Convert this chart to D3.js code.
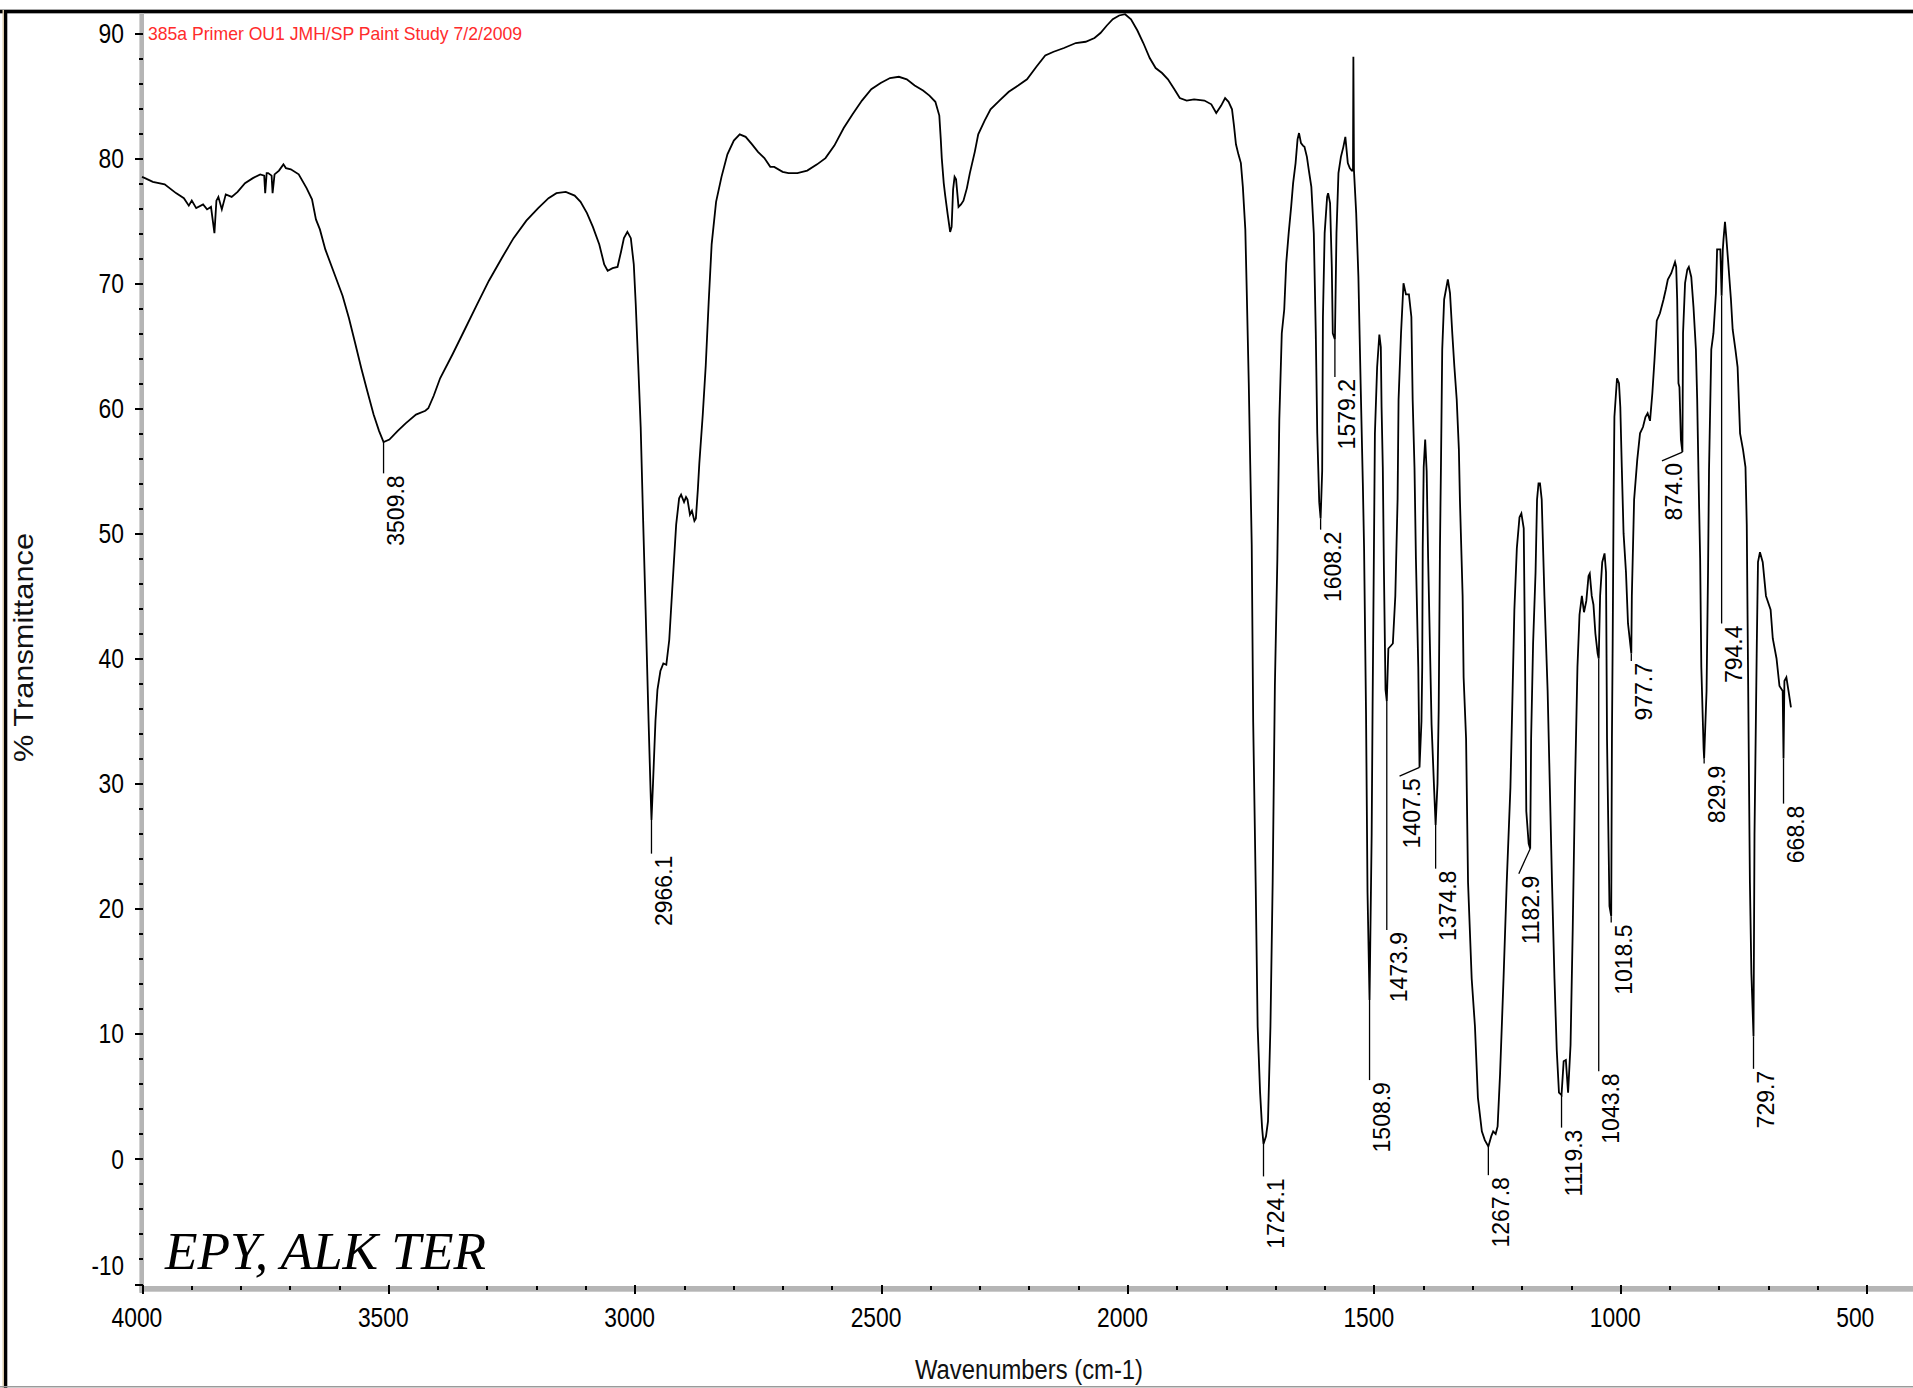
<!DOCTYPE html>
<html><head><meta charset="utf-8">
<script src="https://cdn.jsdelivr.net/npm/d3@7"></script>
<style>html,body{margin:0;padding:0;background:#fff;} svg{display:block;}</style>
</head><body>
<svg id="chart" width="1913" height="1388"></svg>
<script>
// ---------------- DATA ----------------
const wavenumbers = [4000,3994,3978,3954,3931,3915,3905,3899,3890,3876,3868,3860,3853,3849,3845,3838,3830,3818,3806,3791,3775,3760,3752,3750,3747,3744,3737,3735,3731,3722,3713,3708,3698,3682,3666,3655,3647,3639,3628,3610,3593,3580,3568,3555,3543,3530,3519,3509.8,3498,3481,3465,3444,3425,3419,3408,3395,3370,3345,3320,3296,3270,3246,3220,3196,3175,3159,3140,3122,3110,3097,3085,3072,3062,3055,3045,3035,3028,3022,3015,3008,3002,2998,2993,2988,2983,2978,2972,2968,2966.1,2963,2958,2954,2948,2942,2936,2930,2924,2916,2910,2906,2900,2896,2893,2888,2884,2879,2876,2872,2869,2862,2856,2850,2844,2835,2824,2812,2799,2787,2775,2762,2750,2737,2725,2717,2700,2688,2670,2650,2630,2613,2595,2576,2558,2539,2520,2501,2482,2464,2448,2432,2415,2402,2390,2382,2379,2377,2373,2370,2365,2360,2357,2354,2351,2348,2345,2343,2338,2333,2326,2320,2310,2303,2290,2278,2260,2241,2222,2204,2185,2167,2150,2129,2105,2085,2067,2055,2042,2030,2017,2005,1993,1980,1968,1955,1943,1930,1918,1905,1894,1880,1865,1844,1830,1820,1810,1802,1795,1788,1784,1780,1775,1770,1766,1761,1758,1754,1751,1748,1745,1740,1736,1731,1727,1724.1,1719,1715,1710,1705.5,1701,1696,1692,1687,1682,1678,1673,1668,1664,1659,1655,1652,1648,1644,1641,1636,1632,1627,1622,1618,1615,1611,1608.2,1605,1603.5,1600,1595,1593,1589,1585.5,1583.5,1579.2,1576,1572,1567,1562,1558,1553,1549,1545,1542.5,1541.7,1540.5,1536,1531.5,1527,1522.5,1520,1516,1513,1508.9,1504.6,1502.7,1498,1493.5,1489,1486,1484.5,1482,1479.7,1476.5,1473.9,1470.7,1466,1461.6,1456.6,1452,1450,1445,1440,1435,1429,1424,1421.4,1417.7,1414.8,1410,1407.5,1403.5,1402,1401,1399,1396,1393,1390,1383,1378,1374.8,1371,1368.6,1366,1364,1361.4,1357.5,1350,1345.6,1341,1336.7,1332,1327.6,1325.5,1320,1318,1313,1309,1301.6,1295,1289,1281,1275,1267.8,1262,1258,1253,1249,1244,1237,1230.5,1223,1218.6,1215,1210,1204.6,1200.8,1196,1193.6,1190.8,1186,1182.9,1181,1177,1172,1169,1166,1163,1159.5,1154,1147.5,1143,1138.6,1133.6,1129,1124.5,1119.3,1115,1110.5,1106,1101,1096.6,1092,1087,1082.8,1078,1073.7,1069,1064.5,1062,1058,1054.5,1050.6,1046,1043.8,1041,1036.7,1032,1029,1027,1022,1018.5,1017,1015.5,1013.6,1012,1006.7,1002.7,1000,997,993.4,988.5,984.4,977.7,976.6,972,965.6,960,954,949,944.6,939.7,935,930.6,926,919.6,912.3,907.7,903.6,896.6,889,886.6,884.6,882,880,877,874,872.7,868.6,864,861,856,851.5,846.6,844,841,838,835.6,831,829.9,825,822,820,815.4,811,806,803.6,797,794.4,792,790.6,787.6,785,781.5,775.5,772,766.4,762,757,751,746,743.4,739.6,737,734,729.7,727.7,723,720.6,716.6,711,704.4,695,690.6,683,677,670.5,668.8,667,663,658.6,653.7];
const transmittance = [78.5,78.4,78.1,77.9,77.2,76.8,76.2,76.6,76.0,76.3,75.9,76.1,74.0,76.6,76.9,75.9,77.1,76.9,77.3,78.0,78.4,78.7,78.6,77.2,78.8,78.8,78.6,77.2,78.7,79.0,79.5,79.2,79.1,78.7,77.6,76.7,75.1,74.3,72.7,70.8,69.0,67.2,65.3,63.2,61.4,59.5,58.2,57.3,57.5,58.2,58.8,59.5,59.8,60.0,61.0,62.4,64.3,66.3,68.3,70.2,72.0,73.6,75.0,76.0,76.8,77.2,77.3,77.0,76.5,75.6,74.5,73.1,71.5,71.0,71.2,71.3,72.5,73.6,74.1,73.6,71.5,68.3,63.5,58.5,51.0,43.9,35.0,29.5,27.1,30.0,35.0,37.5,39.0,39.6,39.5,41.5,45.5,50.7,52.8,53.1,52.5,52.9,52.7,51.5,51.8,51.0,51.2,53.5,55.6,59.5,63.4,68.5,73.1,76.5,78.5,80.3,81.4,81.9,81.7,81.1,80.5,80.0,79.3,79.3,78.9,78.8,78.8,79.0,79.5,80.0,81.0,82.4,83.5,84.6,85.5,86.0,86.4,86.5,86.3,85.8,85.4,85.0,84.5,83.4,81.5,80.0,78.0,77.0,75.5,74.1,74.5,77.5,78.5,78.3,77.0,76.1,76.3,76.6,77.6,78.8,80.5,81.9,83.0,83.9,84.6,85.3,85.8,86.3,87.3,88.2,88.5,88.8,89.2,89.3,89.6,90.0,90.6,91.1,91.4,91.5,91.1,90.2,89.2,88.0,87.2,86.8,86.3,85.5,84.8,84.6,84.7,84.6,84.3,83.6,84.2,84.8,84.5,83.9,82.6,81.1,80.3,79.6,77.7,74.3,69.2,62.0,55.5,49.1,34.9,22.1,10.6,5.3,2.5,1.2,1.8,3.0,10.6,22.1,37.8,47.9,59.1,66.0,67.9,71.6,74.0,76.1,78.0,79.6,81.5,82.0,81.2,81.0,80.9,80.1,79.0,77.7,74.0,66.0,58.0,52.5,51.2,55.0,67.3,74.0,76.9,77.2,76.4,71.3,66.0,65.5,74.0,78.8,80.1,80.9,81.7,79.6,79.2,79.0,79.0,88.1,79.0,75.6,70.5,62.0,54.0,48.8,35.5,21.3,12.7,25.9,36.2,58.0,63.3,65.9,64.9,60.1,55.3,47.0,37.5,36.6,40.8,41.0,41.2,45.0,52.7,60.7,66.0,70.0,69.1,69.1,67.3,60.7,55.3,48.0,39.3,31.3,35.0,39.3,48.8,55.3,57.5,55.0,48.0,34.7,29.7,26.7,30.0,35.8,48.8,55.3,64.7,68.7,70.3,69.2,66.0,63.3,60.7,56.7,52.7,45.0,38.5,33.6,22.1,14.4,10.6,4.9,2.2,1.5,1.0,1.8,2.2,2.0,2.6,6.8,14.4,22.1,29.7,37.4,43.9,48.8,51.3,51.6,50.4,41.2,27.8,25.2,24.8,33.6,41.2,46.9,52.7,54.0,54.0,52.7,45.0,37.4,29.7,22.1,14.4,8.7,5.3,5.1,7.8,7.9,5.3,9.1,18.3,29.7,39.3,43.5,45.0,43.7,44.6,46.6,46.8,45.0,44.3,42.0,40.4,40.0,45.0,47.7,48.4,46.9,33.6,20.2,19.4,33.6,41.2,52.7,59.3,62.4,62.0,60.1,55.3,50.0,46.9,42.8,40.4,45.0,52.7,55.9,58.0,58.5,59.3,59.6,59.0,61.2,63.9,67.0,67.6,68.7,69.5,70.3,70.8,71.7,71.3,68.7,62.0,61.7,57.5,56.5,66.0,70.0,71.1,71.3,70.5,68.1,64.7,60.7,54.0,48.0,39.3,32.8,32.0,37.4,46.9,55.0,64.7,66.0,69.2,72.7,72.7,69.0,72.7,73.5,74.9,73.7,71.9,68.7,66.3,64.7,63.3,58.0,56.7,55.3,50.7,33.6,22.1,14.8,9.8,25.9,41.2,47.7,48.5,47.7,45.0,43.9,41.6,40.0,37.8,37.4,32.0,38.2,38.5,37.4,36.1];

const xMajorTicks = [4000,3500,3000,2500,2000,1500,1000,500];
const xMinorTicks = d3.range(4000, 450, -100);
const yMajorTicks = [-10,0,10,20,30,40,50,60,70,80,90];
const yMinorTicks = d3.range(-10, 92, 2);

// peak annotations (values in data units)
const peakLabels   = ["3509.8","2966.1","1724.1","1608.2","1579.2","1508.9","1473.9","1407.5","1374.8","1267.8","1182.9","1119.3","1043.8","1018.5","977.7","874.0","829.9","794.4","729.7","668.8"];
const peakWn       = [3509.8,2966.1,1724.1,1608.2,1579.2,1508.9,1473.9,1407.5,1374.8,1267.8,1182.9,1119.3,1043.8,1018.5,977.7,874.0,829.9,794.4,729.7,668.8];
const peakMin      = [57.3,27.1,1.2,51.2,65.5,12.7,36.6,31.3,26.7,1.0,24.8,5.1,40.0,19.4,40.4,56.5,32.0,69.0,9.8,32.0];
const labelEndT    = [54.8,24.4,-1.4,50.3,62.5,6.3,18.3,30.6,23.2,-1.3,22.8,2.5,7.0,18.9,39.8,55.8,31.6,42.8,7.2,28.4];
const labelWn      = [3509.8,2966.1,1724.1,1608.2,1579.2,1508.9,1473.9,1448.0,1374.8,1267.8,1206.0,1119.3,1043.8,1018.5,977.7,915.5,829.9,794.4,729.7,668.8];

const headerText = "385a Primer OU1 JMH/SP Paint Study 7/2/2009";
const sampleText = "EPY, ALK TER";
const xTitle = "Wavenumbers (cm-1)";
const yTitle = "% Transmittance";

// ---------------- LAYOUT ----------------
const W = 1913, H = 1388;
const svg = d3.select("#chart");
const x = d3.scaleLinear().domain([4000, 500]).range([142, 1866.7]);
const y = d3.scaleLinear().domain([-10, 90]).range([1284, 33]);
const axisFont = "'Liberation Sans Narrow','Liberation Sans',Arial,sans-serif";

svg.append("rect").attr("width", W).attr("height", H).attr("fill", "#fff");

// frame
svg.append("rect").attr("x", 0).attr("y", 9).attr("width", W).attr("height", 5).attr("fill", "#a8a8a8");
svg.append("rect").attr("x", 0).attr("y", 10).attr("width", W).attr("height", 3).attr("fill", "#000");
svg.append("rect").attr("x", 2.5).attr("y", 10).attr("width", 1.5).attr("height", H - 10).attr("fill", "#d9c9a9");
svg.append("rect").attr("x", 4).attr("y", 10).attr("width", 3.3).attr("height", H - 10).attr("fill", "#000");
svg.append("rect").attr("x", 0).attr("y", H - 2).attr("width", W).attr("height", 1.5).attr("fill", "#9a9a9a");

// axis bands
svg.append("rect").attr("x", 139.4).attr("y", 13).attr("width", 4.6).attr("height", 1280).attr("fill", "#b5b5b5");
svg.append("rect").attr("x", 139.4).attr("y", 1286).attr("width", W - 139.4).attr("height", 5.7).attr("fill", "#b5b5b5");

function styleAxis(g) {
  g.select(".domain").remove();
  g.selectAll(".tick line").attr("stroke", "#000").attr("stroke-width", 2).attr("shape-rendering", "crispEdges");
  g.selectAll(".tick text").remove();
}

// y ticks
svg.append("g").attr("transform", "translate(143.4,0)")
  .call(d3.axisLeft(y).tickValues(yMinorTicks.filter(v => !yMajorTicks.includes(v))).tickSize(4).tickFormat(""))
  .call(styleAxis);
svg.append("g").attr("transform", "translate(143.4,0)")
  .call(d3.axisLeft(y).tickValues(yMajorTicks).tickSize(8.5).tickFormat(""))
  .call(styleAxis);

// x ticks
svg.append("g").attr("transform", "translate(0,1286)")
  .call(d3.axisBottom(x).tickValues(xMinorTicks.filter(v => !xMajorTicks.includes(v))).tickSize(4).tickFormat(""))
  .call(styleAxis);
svg.append("g").attr("transform", "translate(0,1285)")
  .call(d3.axisBottom(x).tickValues(xMajorTicks).tickSize(9.3).tickFormat(""))
  .call(styleAxis);

// tick labels
const digitW = 12.7;
function labLen(s) { return s.replace("-", "").length * digitW + (s.includes("-") ? 7 : 0); }
svg.append("g").selectAll("text").data(yMajorTicks).join("text")
  .attr("x", d => 124 - labLen(String(d)))
  .attr("y", d => y(d) + 9.6 - (d === -10 ? 19 : 0))
  .attr("font-family", axisFont).attr("font-size", 27).attr("fill", "#000")
  .attr("textLength", d => labLen(String(d))).attr("lengthAdjust", "spacingAndGlyphs")
  .text(d => String(d));
svg.append("g").selectAll("text").data(xMajorTicks).join("text")
  .attr("x", d => x(d) - 30.5)
  .attr("y", 1327)
  .attr("font-family", axisFont).attr("font-size", 28).attr("fill", "#000")
  .attr("textLength", d => labLen(String(d))).attr("lengthAdjust", "spacingAndGlyphs")
  .text(d => String(d));

// titles
svg.append("text").attr("x", 915).attr("y", 1379)
  .attr("font-family", "'Liberation Sans',Arial,sans-serif").attr("font-size", 27).attr("fill", "#111")
  .attr("textLength", 228).attr("lengthAdjust", "spacingAndGlyphs").text(xTitle);
svg.append("text").attr("transform", "translate(33,762) rotate(-90)")
  .attr("font-family", "'Liberation Sans',Arial,sans-serif").attr("font-size", 28).attr("fill", "#111")
  .attr("textLength", 229).attr("lengthAdjust", "spacingAndGlyphs").text(yTitle);

svg.append("text").attr("x", 148).attr("y", 40)
  .attr("font-family", axisFont).attr("font-size", 19).attr("fill", "#ff2b2b")
  .attr("textLength", 374).attr("lengthAdjust", "spacingAndGlyphs").text(headerText);

svg.append("text").attr("x", 165).attr("y", 1269)
  .attr("font-family", "'Liberation Serif','Times New Roman',serif").attr("font-style", "italic")
  .attr("font-size", 53).attr("fill", "#000")
  .attr("textLength", 321).attr("lengthAdjust", "spacingAndGlyphs").text(sampleText);

// spectrum
const pts = wavenumbers.map((w, i) => [w, transmittance[i]]);
const line = d3.line().x(d => x(d[0])).y(d => y(d[1])).curve(d3.curveLinear);
svg.append("path").attr("d", line(pts)).attr("fill", "none").attr("stroke", "#000")
  .attr("stroke-width", 1.8).attr("stroke-linejoin", "miter");

// peak labels + leaders
const ann = svg.append("g");
peakLabels.forEach((t, i) => {
  const xp = x(peakWn[i]), yp = y(peakMin[i]);
  const xl = x(labelWn[i]), yl = y(labelEndT[i]);
  ann.append("line").attr("x1", xp).attr("y1", yp).attr("x2", xl).attr("y2", yl)
    .attr("stroke", "#000").attr("stroke-width", 1.3);
  ann.append("text").attr("transform", `translate(${xl + 20.5},${yl + 2}) rotate(-90)`)
    .attr("text-anchor", "end").attr("font-family", "'Liberation Sans',Arial,sans-serif")
    .attr("font-size", 23).attr("fill", "#000").text(t);
});
</script>
</body></html>
